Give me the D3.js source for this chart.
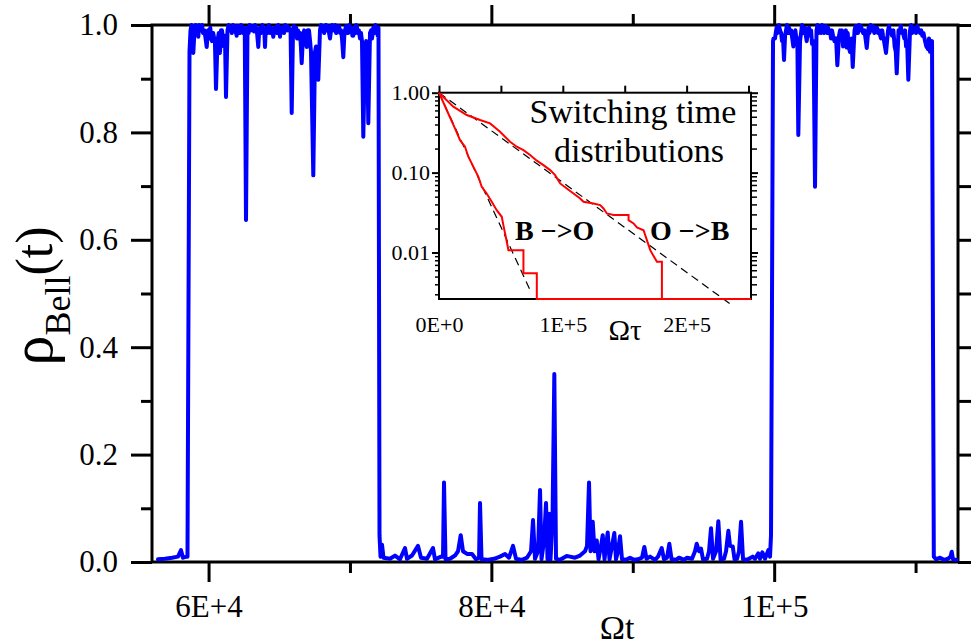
<!DOCTYPE html>
<html>
<head>
<meta charset="utf-8">
<script src="https://cdn.jsdelivr.net/npm/d3@7"></script>
<style>
  body { margin: 0; background: #fff; }
</style>
</head>
<body>
<div id="chart"></div>
<script>
// main series: rho_Bell(t) vs Omega t, in pieces
const bellLow1 = [
  [56424, 0.005], [56919, 0.006], [57414, 0.008], [57839, 0.01], [58051, 0.022],
  [58192, 0.008], [58440, 0.01], [58510, 0.01], [58652, 0.95]
];
const bellHigh1 = [
  [58723, 0.99], [58790, 1.0], [58829, 0.995], [58921, 0.948], [59006, 0.99],
  [59080, 1.0], [59150, 0.985], [59210, 0.995], [59274, 0.978], [59330, 1.0],
  [59394, 0.995], [59470, 0.99], [59540, 1.0], [59606, 0.985], [59700, 0.99],
  [59790, 0.975], [59868, 0.959], [59960, 0.99], [60040, 0.975], [60120, 0.995],
  [60180, 0.98], [60243, 0.97], [60330, 0.985], [60400, 0.975], [60450, 0.97],
  [60526, 0.881], [60632, 0.97], [60720, 0.985], [60809, 0.948], [60880, 0.99],
  [60950, 0.99], [61020, 0.975], [61092, 0.96], [61160, 0.98], [61233, 0.866],
  [61339, 0.99], [61420, 1.0], [61500, 0.99], [61587, 0.995], [61650, 0.985],
  [61720, 1.0], [61800, 0.99], [61880, 0.998], [61940, 0.985], [61990, 0.98],
  [62082, 0.998], [62150, 0.99], [62223, 0.985], [62300, 1.0], [62365, 0.998],
  [62450, 0.985], [62520, 0.995], [62560, 0.99], [62648, 0.637], [62754, 0.995],
  [62830, 0.985], [62900, 1.0], [62990, 0.99], [63072, 0.99], [63140, 0.998],
  [63210, 0.988], [63290, 1.0], [63355, 0.995], [63430, 0.985], [63518, 0.959],
  [63580, 0.99], [63638, 0.995], [63720, 0.985], [63800, 1.0], [63880, 0.99],
  [63940, 0.99], [63991, 0.959], [64040, 0.99], [64097, 0.995], [64170, 0.985],
  [64260, 1.0], [64345, 0.985], [64420, 0.995], [64500, 0.99], [64578, 0.978],
  [64660, 0.995], [64769, 0.997], [64850, 0.985], [64930, 1.0], [65000, 0.99],
  [65052, 0.978], [65120, 0.995], [65190, 0.988], [65264, 0.997], [65340, 0.985],
  [65420, 1.0], [65500, 0.99], [65560, 0.998], [65618, 0.99], [65700, 0.995],
  [65800, 0.99], [65880, 0.836], [65972, 0.99], [66040, 0.998], [66120, 0.985],
  [66190, 0.995], [66254, 0.975], [66330, 0.99], [66400, 0.975], [66470, 0.985],
  [66530, 0.96], [66587, 0.929], [66679, 0.98], [66760, 0.99], [66850, 0.975],
  [66940, 0.959], [67010, 0.99], [67103, 0.99], [67180, 0.97], [67244, 0.95],
  [67407, 0.72], [67527, 0.95], [67600, 0.96], [67680, 0.93], [67761, 0.898],
  [67881, 0.99], [67950, 1.0], [68030, 0.99], [68100, 0.998], [68170, 0.985],
  [68235, 0.995], [68300, 1.0], [68380, 0.99], [68460, 0.998], [68520, 0.985],
  [68588, 0.975], [68660, 0.99], [68730, 1.0], [68800, 0.998], [68880, 0.99],
  [68950, 1.0], [69020, 0.985], [69090, 0.995], [69154, 0.99], [69230, 0.998],
  [69300, 0.985], [69380, 0.99], [69450, 0.97], [69529, 0.94], [69600, 0.98],
  [69649, 0.99], [69720, 0.998], [69800, 0.985], [69882, 0.985], [69950, 1.0],
  [70030, 0.99], [70110, 0.995], [70170, 0.98], [70236, 0.98], [70300, 0.995],
  [70380, 0.985], [70440, 1.0], [70497, 0.995], [70560, 0.985], [70630, 0.99],
  [70710, 0.975], [70780, 0.985], [70851, 0.97], [70943, 0.792], [71063, 0.95],
  [71140, 0.97], [71220, 0.95], [71297, 0.817], [71417, 0.985], [71490, 0.99],
  [71560, 0.975], [71650, 0.995], [71720, 0.985], [71800, 1.0], [71860, 0.99],
  [71912, 0.99], [71960, 0.98], [72018, 0.995]
];
const bellLow2 = [
  [72089, 0.05], [72160, 0.01], [72266, 0.032], [72372, 0.008], [72832, 0.006],
  [73185, 0.012], [73539, 0.005], [73892, 0.026], [74034, 0.006], [74388, 0.012],
  [74812, 0.03], [75024, 0.008], [75449, 0.006], [75873, 0.026], [76014, 0.005],
  [76439, 0.01], [76580, 0.01], [76651, 0.148], [76757, 0.005], [77075, 0.006],
  [77429, 0.012], [77641, 0.02], [77832, 0.05], [77995, 0.02], [78278, 0.015],
  [78631, 0.015], [78914, 0.005], [79130, 0.008], [79197, 0.11], [79303, 0.005],
  [79692, 0.004], [80187, 0.006], [80611, 0.01], [80965, 0.015], [81248, 0.008],
  [81531, 0.03], [81743, 0.006], [82168, 0.004], [82521, 0.008], [82804, 0.02],
  [82946, 0.078], [83087, 0.006], [83299, 0.02], [83441, 0.134], [83547, 0.005],
  [83724, 0.04], [83865, 0.11], [83971, 0.005], [84077, 0.09], [84183, 0.005],
  [84325, 0.08], [84452, 0.35], [84572, 0.006], [84855, 0.004], [85328, 0.011],
  [85562, 0.01], [85916, 0.008], [86270, 0.012], [86623, 0.02], [86765, 0.03],
  [86906, 0.148], [87012, 0.02], [87168, 0.075], [87296, 0.02], [87451, 0.04],
  [87578, 0.005], [87755, 0.03], [87875, 0.05], [88002, 0.005], [88108, 0.03],
  [88228, 0.055], [88355, 0.005], [88532, 0.03], [88695, 0.054], [88815, 0.005],
  [88956, 0.02], [89098, 0.048], [89239, 0.005], [89522, 0.004], [89805, 0.008],
  [90088, 0.004], [90371, 0.005], [90654, 0.008], [90817, 0.028], [90973, 0.006],
  [91220, 0.01], [91574, 0.004], [91786, 0.01], [92048, 0.026], [92210, 0.005],
  [92423, 0.008], [92585, 0.034], [92741, 0.005], [93059, 0.004], [93271, 0.008],
  [93625, 0.004], [93837, 0.008], [94190, 0.006], [94402, 0.02], [94523, 0.034],
  [94685, 0.02], [94827, 0.025], [94968, 0.005], [95251, 0.006], [95393, 0.02],
  [95534, 0.063], [95676, 0.006], [95888, 0.02], [96051, 0.076], [96207, 0.005],
  [96454, 0.006], [96596, 0.02], [96759, 0.058], [96879, 0.03], [97070, 0.029],
  [97197, 0.005], [97374, 0.006], [97515, 0.02], [97657, 0.075], [97798, 0.005],
  [98081, 0.004], [98482, 0.01], [98645, 0.006], [98878, 0.016], [98999, 0.006],
  [99161, 0.018], [99352, 0.006], [99586, 0.022], [99706, 0.01], [99777, 0.05],
  [99847, 0.5]
];
const bellHigh2 = [
  [99918, 0.97], [99953, 0.975], [100059, 0.975], [100110, 0.985], [100165, 0.995],
  [100240, 0.985], [100330, 1.0], [100413, 0.99], [100490, 0.985], [100554, 0.97],
  [100620, 0.98], [100696, 0.935], [100770, 0.98], [100837, 0.99], [100900, 1.0],
  [100980, 0.985], [101050, 0.995], [101120, 0.985], [101200, 0.99], [101280, 0.975],
  [101354, 0.96], [101430, 0.985], [101500, 0.99], [101545, 0.98], [101640, 0.97],
  [101707, 0.795], [101828, 0.97], [101900, 0.985], [101970, 1.0], [102040, 0.99],
  [102110, 0.985], [102180, 0.995], [102240, 0.98], [102302, 0.97], [102380, 0.99],
  [102464, 0.995], [102540, 0.98], [102610, 0.99], [102677, 0.965], [102783, 0.97],
  [102889, 0.699], [102995, 0.99], [103060, 1.0], [103130, 0.985], [103190, 0.995],
  [103242, 0.995], [103310, 0.985], [103380, 1.0], [103450, 0.99], [103520, 0.985],
  [103596, 0.99], [103660, 0.998], [103740, 0.985], [103810, 0.995], [103880, 0.985],
  [103950, 0.99], [104020, 0.975], [104090, 0.99], [104162, 0.98], [104260, 0.97],
  [104380, 0.975], [104466, 0.925], [104587, 0.98], [104660, 0.99], [104730, 0.975],
  [104800, 0.99], [104870, 0.96], [104940, 0.985], [105010, 0.97], [105070, 0.99],
  [105131, 0.958], [105200, 0.985], [105259, 0.96], [105365, 0.95], [105470, 0.975],
  [105556, 0.922], [105683, 0.99], [105750, 0.998], [105830, 0.985], [105930, 0.985],
  [106000, 1.0], [106070, 0.99], [106140, 0.998], [106213, 0.99], [106290, 0.985],
  [106380, 0.99], [106460, 0.975], [106546, 0.957], [106673, 0.995], [106740, 0.985],
  [106820, 1.0], [106920, 0.99], [107000, 0.998], [107080, 0.985], [107160, 0.995],
  [107274, 0.995], [107350, 0.985], [107430, 0.99], [107500, 0.98], [107557, 0.975],
  [107640, 0.99], [107700, 0.98], [107769, 0.97], [107910, 0.948], [108052, 0.99],
  [108120, 0.998], [108200, 0.985], [108270, 0.99], [108335, 0.98], [108430, 0.99],
  [108520, 0.96], [108600, 0.95], [108667, 0.91], [108794, 0.99], [108870, 0.985],
  [108950, 0.998], [109030, 0.985], [109113, 0.985], [109200, 0.975], [109260, 0.99],
  [109325, 0.96], [109400, 0.97], [109487, 0.898], [109608, 0.99], [109680, 1.0],
  [109760, 0.985], [109850, 0.995], [109961, 0.995], [110040, 0.985], [110120, 0.998],
  [110200, 0.99], [110315, 0.985], [110400, 0.99], [110480, 0.98], [110560, 0.985],
  [110669, 0.97], [110760, 0.96], [110881, 0.955], [110950, 0.975], [111022, 0.95],
  [111100, 0.965], [111163, 0.97], [111234, 0.4]
];
const bellLow3 = [
  [111290, 0.01], [111446, 0.005], [111729, 0.008], [112012, 0.004], [112295, 0.006],
  [112472, 0.01], [112557, 0.019], [112649, 0.005], [112896, 0.004]
];

// main axis ticks
const xMajor = [60000, 80000, 100000];
const xMajorLabels = ["6E+4", "8E+4", "1E+5"];
const xMinor = [70000, 90000, 110000];
const yMajor = [0, 0.2, 0.4, 0.6, 0.8, 1.0];
const yMinor = [0.1, 0.3, 0.5, 0.7, 0.9];

// inset: switching time distributions (survival curves) and exponential fits
const bToO = [
  [0, 1], [6200, 0.607], [12900, 0.357], [17000, 0.255], [21000, 0.211],
  [23700, 0.158], [27800, 0.118], [31800, 0.0887], [34500, 0.0665], [38500, 0.0548],
  [42600, 0.0431], [46600, 0.0339], [50700, 0.028], [52000, 0.022], [54200, 0.015],
  [56100, 0.0107], [68200, 0.0107], [68200, 0.0055], [79000, 0.0055], [79000, 0.00262],
  [252000, 0.00262]
];
const oToB = [
  [0, 1], [11590, 0.668], [22370, 0.525], [33150, 0.455], [41240, 0.413],
  [49330, 0.325], [57410, 0.243], [62800, 0.211], [68190, 0.191], [73580, 0.166],
  [78980, 0.141], [84370, 0.124], [89760, 0.1075], [93800, 0.093], [97840, 0.0732],
  [103230, 0.0633], [108630, 0.0548], [114020, 0.0475], [116710, 0.0431], [124800, 0.0411],
  [130190, 0.0392], [132880, 0.0356], [135580, 0.0308], [140970, 0.0294], [153100, 0.0294],
  [153100, 0.0254], [157140, 0.0231], [159840, 0.0206], [165230, 0.019], [167920, 0.0143],
  [170620, 0.0107], [176010, 0.00764], [180050, 0.00764], [180050, 0.00262]
];
const fitBO = [[0, 1], [73580, 0.00337]];
const fitOB = [[0, 1], [236660, 0.00219]];

const insetXTop = [0, 50000, 100000, 150000, 200000, 250000];
const insetXMajor = [0, 100000, 200000];
const insetXLabels = ["0E+0", "1E+5", "2E+5"];
const insetYMajor = [1, 0.1, 0.01];
const insetYLabels = ["1.00", "0.10", "0.01"];
const insetYMinor = [0.003, 0.004, 0.005, 0.006, 0.007, 0.008, 0.009,
  0.02, 0.03, 0.04, 0.05, 0.06, 0.07, 0.08, 0.09,
  0.2, 0.3, 0.4, 0.5, 0.6, 0.7, 0.8, 0.9];

const width = 971;
const height = 641;
const serif = '"Liberation Serif", "Times New Roman", serif';

const svg = d3.select('#chart')
  .append('svg')
  .attr('width', width)
  .attr('height', height)
  .attr('viewBox', [0, 0, width, height])
  .style('font-family', serif);

const x = d3.scaleLinear()
  .domain([56000, 113000])
  .range([152, 958]);

const y = d3.scaleLinear()
  .domain([0, 1])
  .range([562, 25]);

function tidy(g, sw, fs) {
  g.select('.domain').remove();
  g.selectAll('line').attr('stroke', '#000').attr('stroke-width', sw);
  g.attr('font-family', serif).attr('font-size', fs);
  g.selectAll('text').attr('fill', '#000');
}

// frame
svg.append('rect')
  .attr('x', x.range()[0])
  .attr('y', y.range()[1])
  .attr('width', x.range()[1] - x.range()[0])
  .attr('height', y.range()[0] - y.range()[1])
  .attr('fill', 'none')
  .attr('stroke', '#000')
  .attr('stroke-width', 3);

// bottom axis
svg.append('g')
  .attr('transform', `translate(0,${y(0)})`)
  .call(d3.axisBottom(x).tickValues(xMajor).tickSize(20).tickPadding(13)
    .tickFormat((d, i) => xMajorLabels[i]))
  .call(g => tidy(g, 3, 31));
svg.append('g')
  .attr('transform', `translate(0,${y(0)})`)
  .call(d3.axisBottom(x).tickValues(xMinor).tickSize(11).tickFormat(''))
  .call(g => tidy(g, 3, 31));

// top axis
svg.append('g')
  .attr('transform', `translate(0,${y(1)})`)
  .call(d3.axisTop(x).tickValues(xMajor).tickSize(20).tickFormat(''))
  .call(g => tidy(g, 3, 31));
svg.append('g')
  .attr('transform', `translate(0,${y(1)})`)
  .call(d3.axisTop(x).tickValues(xMinor).tickSize(11).tickFormat(''))
  .call(g => tidy(g, 3, 31));

// left axis
svg.append('g')
  .attr('transform', `translate(${x(56000)},0)`)
  .call(d3.axisLeft(y).tickValues(yMajor).tickSize(21).tickPadding(13)
    .tickFormat(d3.format('.1f')))
  .call(g => tidy(g, 3, 31));
svg.append('g')
  .attr('transform', `translate(${x(56000)},0)`)
  .call(d3.axisLeft(y).tickValues(yMinor).tickSize(11).tickFormat(''))
  .call(g => tidy(g, 3, 31));

// right axis
svg.append('g')
  .attr('transform', `translate(${x(113000)},0)`)
  .call(d3.axisRight(y).tickValues(yMajor).tickSize(20).tickFormat(''))
  .call(g => tidy(g, 3, 31));
svg.append('g')
  .attr('transform', `translate(${x(113000)},0)`)
  .call(d3.axisRight(y).tickValues(yMinor).tickSize(14).tickFormat(''))
  .call(g => tidy(g, 3, 31));

// main curve
const bell = bellLow1.concat(bellHigh1, bellLow2, bellHigh2, bellLow3);
svg.append('path')
  .datum(bell)
  .attr('fill', 'none')
  .attr('stroke', '#0000ff')
  .attr('stroke-width', 4)
  .attr('stroke-linejoin', 'round')
  .attr('stroke-linecap', 'round')
  .attr('d', d3.line().x(d => x(d[0])).y(d => y(d[1])));

// axis titles
svg.append('text')
  .attr('x', 617)
  .attr('y', 639)
  .attr('text-anchor', 'middle')
  .attr('font-size', 34)
  .text('Ωt');

const yTitle = svg.append('text')
  .attr('transform', 'translate(52,296) rotate(-90)')
  .attr('text-anchor', 'middle');
yTitle.append('tspan').attr('font-size', 60).text('ρ');
yTitle.append('tspan').attr('font-size', 36).attr('dy', 18).text('Bell');
yTitle.append('tspan').attr('font-size', 52).attr('dy', -18).text('(t)');

// ---- inset ----
const ix = d3.scaleLinear()
  .domain([0, 252000])
  .range([439, 751]);

const iy = d3.scaleLog()
  .domain([0.00262, 1])
  .range([299, 92.7]);

const inset = svg.append('g');

inset.append('rect')
  .attr('x', ix.range()[0])
  .attr('y', iy.range()[1])
  .attr('width', ix.range()[1] - ix.range()[0])
  .attr('height', iy.range()[0] - iy.range()[1])
  .attr('fill', '#fff')
  .attr('stroke', '#000')
  .attr('stroke-width', 2);

inset.append('g')
  .attr('transform', `translate(0,${iy.range()[0]})`)
  .call(d3.axisBottom(ix).tickValues(insetXMajor).tickSize(0).tickPadding(17)
    .tickFormat((d, i) => insetXLabels[i]))
  .call(g => tidy(g, 2, 22));

inset.append('g')
  .attr('transform', `translate(0,${iy.range()[1]})`)
  .call(d3.axisTop(ix).tickValues(insetXTop).tickSize(7).tickFormat(''))
  .call(g => tidy(g, 2, 22));

inset.append('g')
  .attr('transform', `translate(${ix.range()[0]},0)`)
  .call(d3.axisLeft(iy).tickValues(insetYMajor).tickSize(7).tickPadding(2)
    .tickFormat((d, i) => insetYLabels[i]))
  .call(g => tidy(g, 2, 22));
inset.append('g')
  .attr('transform', `translate(${ix.range()[0]},0)`)
  .call(d3.axisLeft(iy).tickValues(insetYMinor).tickSize(4).tickFormat(''))
  .call(g => tidy(g, 1.5, 22));

inset.append('g')
  .attr('transform', `translate(${ix.range()[1]},0)`)
  .call(d3.axisRight(iy).tickValues(insetYMajor).tickSize(7).tickFormat(''))
  .call(g => tidy(g, 2, 22));
inset.append('g')
  .attr('transform', `translate(${ix.range()[1]},0)`)
  .call(d3.axisRight(iy).tickValues(insetYMinor).tickSize(6).tickFormat(''))
  .call(g => tidy(g, 1.5, 22));

const iline = d3.line().x(d => ix(d[0])).y(d => iy(d[1]));

inset.selectAll('path.fit')
  .data([fitBO, fitOB])
  .join('path')
  .attr('class', 'fit')
  .attr('fill', 'none')
  .attr('stroke', '#000')
  .attr('stroke-width', 1.2)
  .attr('stroke-dasharray', '8,5')
  .attr('d', iline);

inset.selectAll('path.dist')
  .data([bToO, oToB])
  .join('path')
  .attr('class', 'dist')
  .attr('fill', 'none')
  .attr('stroke', '#ff0000')
  .attr('stroke-width', 2)
  .attr('d', iline);

inset.append('text')
  .attr('x', 625)
  .attr('y', 340)
  .attr('text-anchor', 'middle')
  .attr('font-size', 29)
  .text('Ωτ');

inset.append('text')
  .attr('x', 633)
  .attr('y', 123)
  .attr('text-anchor', 'middle')
  .attr('font-size', 34)
  .text('Switching time');
inset.append('text')
  .attr('x', 639)
  .attr('y', 162)
  .attr('text-anchor', 'middle')
  .attr('font-size', 34)
  .text('distributions');

inset.append('text')
  .attr('x', 515)
  .attr('y', 240)
  .attr('font-size', 28)
  .attr('font-weight', 'bold')
  .text('B −>O');
inset.append('text')
  .attr('x', 650)
  .attr('y', 240)
  .attr('font-size', 28)
  .attr('font-weight', 'bold')
  .text('O −>B');
</script>
</body>
</html>
